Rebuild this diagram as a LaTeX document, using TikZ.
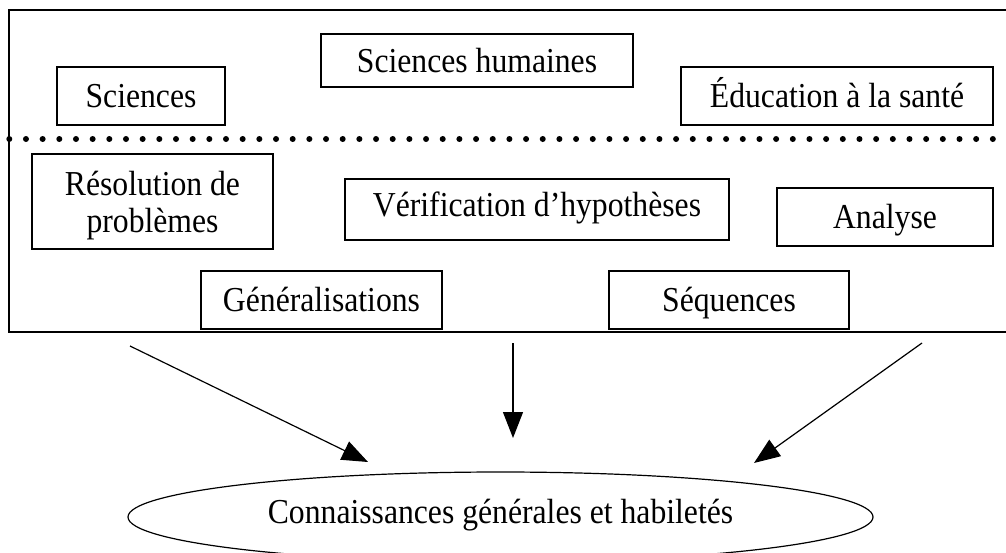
\documentclass[tikz,border=0pt]{standalone}
\usepackage{fontspec}
\setmainfont[FakeStretch=0.905]{Liberation Serif}
\usetikzlibrary{arrows.meta,shapes.geometric}
\begin{document}
\begin{tikzpicture}[x=1pt,y=-1pt,
  txt/.style={font=\fontsize{35}{36.7}\selectfont},
  box/.style={txt,draw,line width=1.2pt,inner sep=0pt,text height=23.2pt,text depth=0pt},
  arr/.style={line width=1.2pt,-{Triangle[length=26pt,width=20pt]}},
  frame/.style={line width=1.3pt},
  dots/.style={line width=6pt,line cap=round,dash pattern=on 0pt off 16.67pt}]
\useasboundingbox (0,0) rectangle (1006,552);
\clip (0,0) rectangle (1006,552);
% outer frame (right side outside the picture)
\draw[frame] (1030,10) -- (9,10) -- (9,332) -- (1030,332);
% dotted separator
\draw[dots] (9.3,139) -- (1010,139);
% upper boxes
\node[box,minimum width=168pt,minimum height=58pt] (sci) at (141,96) {Sciences};
\node[box,minimum width=312pt,minimum height=53pt] (sh) at (477,60.5) {Sciences humaines};
\node[box,minimum width=312pt,minimum height=58pt] (edu) at (837,96) {Éducation à la santé};
% lower boxes
\node[txt,draw,line width=1.2pt,inner sep=0pt,align=center,text depth=0pt,minimum width=241pt,minimum height=95pt] (res) at (152.5,201.5) {Résolution de\\problèmes};
\node[box,minimum width=384pt,minimum height=61pt,text depth=8.8pt] (ver) at (537,209.5) {Vérification d’hypothèses};
\node[box,minimum width=216pt,minimum height=58pt] (ana) at (885,217) {Analyse};
\node[box,minimum width=241pt,minimum height=58pt] (gen) at (321.5,300) {Généralisations};
\node[box,minimum width=240pt,minimum height=58pt] (seq) at (729,300) {Séquences};
% result
\node[txt,draw,ellipse,line width=1.2pt,inner sep=0pt,minimum width=745pt,minimum height=90pt,text height=23.2pt,text depth=11.2pt] (ck) at (500.5,517) {Connaissances générales et habiletés};
% arrows
\coordinate (s1) at (130,346);
\coordinate (t1) at (368,462);
\coordinate (s2) at (513,343);
\coordinate (t2) at (513,438);
\coordinate (s3) at (922,343);
\coordinate (t3) at (754,463);
\draw[arr] (s1) -- (t1);
\draw[arr] (s2) -- (t2);
\draw[arr] (s3) -- (t3);
\end{tikzpicture}
\end{document}
